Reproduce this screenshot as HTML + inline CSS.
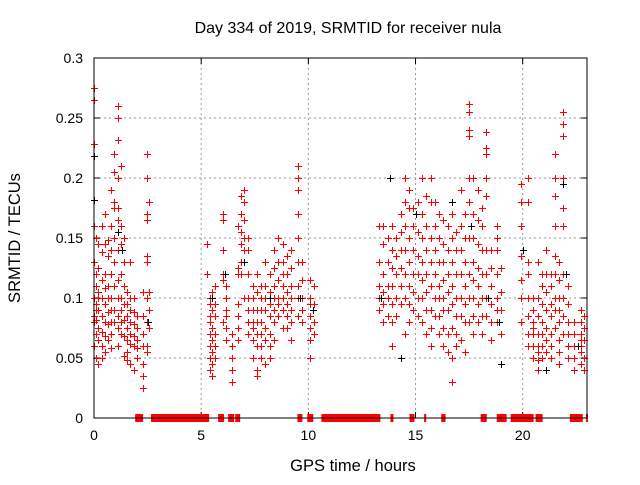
<!DOCTYPE html>
<html><head><meta charset="utf-8"><style>
body{margin:0;background:#fff;}
svg text{font-family:"Liberation Sans",sans-serif;font-size:14px;fill:#000;}
</style></head><body>
<svg id="chart" width="640" height="480" xmlns="http://www.w3.org/2000/svg">
<text x="348" y="33" text-anchor="middle" style="font-size:16px">Day 334 of 2019, SRMTID for receiver nula</text>
<text transform="translate(20,238) rotate(-90)" text-anchor="middle" style="font-size:16.5px">SRMTID / TECUs</text>
<text x="353" y="471" text-anchor="middle" style="font-size:16.5px">GPS time / hours</text>
<g id="grid"></g>
<g id="bars"></g>
<g id="pts"></g>
<rect x="94" y="58" width="493" height="360" fill="none" stroke="#000" stroke-width="1"/>
</svg>
<script>
const xTicks=[0,5,10,15,20];
const yTicks=[0,0.05,0.1,0.15,0.2,0.25,0.3];
const yTickLabels=["0","0.05","0.1","0.15","0.2","0.25","0.3"];
const colTimes=[0,0.1,0.2,0.35,0.5,0.65,0.8,0.95,1.1,1.25,1.4,1.55,1.7,1.85,2.0,2.3,2.45,2.55,
5.25,5.4,5.5,5.65,6.0,6.15,6.45,6.7,6.85,7.0,7.2,7.4,7.6,7.8,8.0,8.2,8.4,8.6,8.8,9.0,9.2,9.5,9.7,10.1,10.25,
13.3,13.5,13.7,13.9,14.1,14.3,14.5,14.7,14.9,15.1,15.3,15.5,15.7,15.9,16.1,16.3,16.5,16.7,16.9,17.1,17.3,17.5,17.7,17.9,18.1,18.3,18.5,18.8,19.0,
19.9,20.25,20.5,20.7,20.9,21.1,21.3,21.5,21.7,21.9,22.1,22.4,22.7,22.85];
const colValues=[
[0.275,0.265,0.228,0.16,0.13,0.1,0.085,0.08,0.06],
[0.15,0.12,0.11,0.095,0.09,0.082,0.07,0.05],
[0.145,0.125,0.105,0.1,0.09,0.075,0.065,0.045],
[0.16,0.138,0.115,0.1,0.085,0.072,0.06,0.05],
[0.17,0.145,0.12,0.108,0.095,0.08,0.068,0.055],
[0.148,0.135,0.11,0.1,0.088,0.078,0.065],
[0.19,0.16,0.14,0.12,0.1,0.09,0.08,0.07,0.058],
[0.22,0.205,0.18,0.175,0.15,0.13,0.11,0.09,0.08],
[0.26,0.25,0.232,0.2,0.175,0.165,0.14,0.115,0.1,0.085,0.075,0.06],
[0.21,0.16,0.145,0.12,0.1,0.09,0.08,0.07],
[0.15,0.13,0.11,0.095,0.082,0.068,0.052],
[0.105,0.095,0.085,0.075,0.065,0.055,0.048],
[0.13,0.1,0.09,0.08,0.07,0.062,0.045],
[0.1,0.088,0.078,0.068,0.06,0.04],
[0.085,0.075,0.065,0.058,0.05],
[0.105,0.085,0.07,0.06,0.045,0.035,0.025],
[0.22,0.2,0.17,0.165,0.135,0.13,0.1,0.08,0.06,0.055],
[0.18,0.105,0.09,0.075],
[0.145,0.12],
[0.1,0.095,0.085,0.08,0.07,0.06,0.05,0.04],
[0.105,0.09,0.075,0.065,0.055,0.045,0.035],
[0.11,0.095,0.085,0.07,0.06,0.05],
[0.17,0.165,0.14,0.12,0.115,0.08],
[0.11,0.1,0.09,0.085,0.075,0.065],
[0.07,0.06,0.05,0.04,0.03],
[0.16,0.125,0.12,0.095,0.085,0.075,0.065],
[0.185,0.17,0.155,0.145,0.13,0.12],
[0.19,0.18,0.165,0.15,0.14,0.1],
[0.15,0.14,0.12,0.1,0.09,0.08,0.07],
[0.11,0.1,0.09,0.08,0.075,0.065,0.05],
[0.12,0.105,0.09,0.08,0.07,0.06,0.04,0.035],
[0.11,0.1,0.09,0.08,0.07,0.06,0.05],
[0.13,0.11,0.1,0.09,0.075,0.065,0.045],
[0.12,0.105,0.095,0.085,0.07,0.06,0.05],
[0.14,0.125,0.11,0.1,0.09,0.08,0.065],
[0.15,0.13,0.115,0.1,0.095,0.085],
[0.145,0.13,0.12,0.11,0.1,0.09,0.075],
[0.135,0.12,0.105,0.095,0.085,0.075],
[0.14,0.125,0.11,0.1,0.09,0.08,0.065],
[0.21,0.2,0.19,0.17,0.15,0.13,0.11,0.1,0.085],
[0.13,0.115,0.1,0.09,0.08],
[0.115,0.1,0.095,0.085,0.075,0.065,0.05],
[0.11,0.095,0.08,0.07],
[0.16,0.13,0.11,0.1,0.09],
[0.16,0.145,0.12,0.105,0.095,0.08],
[0.15,0.13,0.11,0.1,0.085],
[0.16,0.14,0.125,0.11,0.095,0.08,0.06],
[0.15,0.135,0.12,0.1,0.085],
[0.17,0.155,0.14,0.125,0.11,0.095],
[0.2,0.18,0.16,0.14,0.12,0.1,0.07],
[0.19,0.175,0.15,0.13,0.11,0.095,0.08],
[0.175,0.16,0.14,0.12,0.105,0.09],
[0.18,0.155,0.135,0.12,0.1,0.085],
[0.2,0.17,0.15,0.13,0.115,0.1,0.08],
[0.185,0.16,0.14,0.12,0.105,0.09,0.07],
[0.2,0.18,0.15,0.13,0.11,0.09,0.075,0.06],
[0.18,0.16,0.14,0.12,0.1,0.085],
[0.17,0.15,0.13,0.11,0.1,0.085,0.07],
[0.165,0.145,0.13,0.115,0.1,0.09,0.075,0.06],
[0.16,0.14,0.12,0.105,0.09,0.07,0.055],
[0.17,0.15,0.13,0.11,0.095,0.075,0.05,0.03],
[0.155,0.14,0.12,0.1,0.085,0.07,0.06],
[0.19,0.16,0.14,0.12,0.1,0.085,0.065],
[0.17,0.15,0.13,0.11,0.095,0.08,0.055],
[0.262,0.255,0.24,0.235,0.2,0.18,0.15,0.12,0.1,0.08],
[0.2,0.17,0.15,0.13,0.115,0.1,0.085,0.07],
[0.19,0.165,0.145,0.125,0.11,0.095,0.08],
[0.175,0.16,0.14,0.12,0.1,0.085,0.07],
[0.238,0.225,0.22,0.2,0.185,0.14,0.12,0.1,0.085],
[0.14,0.125,0.11,0.095,0.08,0.065],
[0.16,0.15,0.14,0.12,0.1,0.09,0.08],
[0.125,0.105,0.09,0.07,0.045],
[0.195,0.18,0.16,0.135,0.115,0.1,0.08],
[0.2,0.18,0.13,0.12,0.1,0.085,0.07,0.06],
[0.1,0.09,0.08,0.075,0.07,0.06,0.05],
[0.13,0.1,0.085,0.07,0.06,0.055,0.048,0.04],
[0.12,0.11,0.095,0.08,0.07,0.06,0.05],
[0.14,0.12,0.105,0.09,0.075,0.065,0.055],
[0.12,0.11,0.095,0.085,0.07,0.06,0.05],
[0.22,0.2,0.185,0.16,0.135,0.12,0.1,0.09,0.075],
[0.13,0.115,0.1,0.09,0.08,0.065,0.055,0.045],
[0.255,0.245,0.235,0.2,0.175,0.16,0.12,0.1,0.085,0.07],
[0.11,0.095,0.08,0.07,0.06,0.05],
[0.08,0.07,0.06,0.05,0.04],
[0.09,0.08,0.07,0.065,0.06,0.055,0.045],
[0.085,0.075,0.065,0.05,0.04]];
const blackTimes=[0,0,1.1,1.3,2.5,5.5,6.1,7.0,8.2,9.6,10.2,13.4,13.8,14.3,15.0,16.7,17.6,18.4,18.9,19.0,20.0,21.1,21.9,22.0,22.6];
const blackValues=[0.218,0.182,0.155,0.14,0.08,0.1,0.12,0.13,0.1,0.1,0.09,0.1,0.2,0.05,0.17,0.18,0.16,0.1,0.08,0.045,0.14,0.04,0.195,0.12,0.06];
const barStarts=[1.92,2.66,5.79,6.26,6.59,9.49,9.95,10.61,13.83,14.72,15.4,16.2,18.04,18.79,19.44,20.6,22.2,22.95];
const barEnds=[2.29,5.37,6.07,6.54,6.82,9.72,10.23,13.36,13.97,14.95,15.5,16.4,18.32,19.25,20.51,20.93,22.8,23.0];

const X0=94,X1=587,Y0=418,Y1=58,XMAX=23,YMAX=0.3;
const sx=t=>X0+t/XMAX*(X1-X0);
const sy=v=>Y0-v/YMAX*(Y0-Y1);
const NS="http://www.w3.org/2000/svg";
const grid=document.getElementById('grid'),bars=document.getElementById('bars'),pts=document.getElementById('pts');
function mk(tag,attrs,parent){const e=document.createElementNS(NS,tag);for(const k in attrs)e.setAttribute(k,attrs[k]);parent.appendChild(e);return e;}
xTicks.forEach(t=>{
  const x=sx(t);
  if(t>0){const g=mk('line',{x1:x,x2:x,y1:Y1,y2:Y0,stroke:'#999','stroke-dasharray':'2,3'},grid);
  
  }
  mk('line',{x1:x,x2:x,y1:Y0,y2:Y0-6,stroke:'#000'},grid);
  mk('line',{x1:x,x2:x,y1:Y1,y2:Y1+6,stroke:'#000'},grid);
  const l=mk('text',{x:x,y:Y0+22,'text-anchor':'middle'},grid);l.textContent=t;
  
  
});
yTicks.forEach((v,i)=>{
  const y=sy(v);
  if(v>0&&v<YMAX){const g=mk('line',{x1:X0,x2:X1,y1:y,y2:y,stroke:'#999','stroke-dasharray':'2,3'},grid);
  
  }
  mk('line',{x1:X0,x2:X0+6,y1:y,y2:y,stroke:'#000'},grid);
  mk('line',{x1:X1,x2:X1-6,y1:y,y2:y,stroke:'#000'},grid);
  const l=mk('text',{x:X0-11,y:y+5,'text-anchor':'end'},grid);l.textContent=yTickLabels[i];
  
  
});
barStarts.forEach((s,i)=>{
  const r=mk('rect',{x:sx(s),y:Y0-4,width:Math.max(2,sx(barEnds[i])-sx(s)),height:8,fill:'#f00'},bars);
  
  
});
function plus(t,v,col){
  const x=Math.round(sx(t))+0.5,y=Math.round(sy(v))+0.5;
  const p=mk('path',{d:`M${x-3.5} ${y}H${x+3.5}M${x} ${y-3.5}V${y+3.5}`,stroke:col,'stroke-width':1,fill:'none'},pts);
  
  
}
colTimes.forEach((t,i)=>colValues[i].forEach(v=>plus(t,v,'#f00')));
blackTimes.forEach((t,i)=>plus(t,blackValues[i],'#000'));
</script>
</body></html>
